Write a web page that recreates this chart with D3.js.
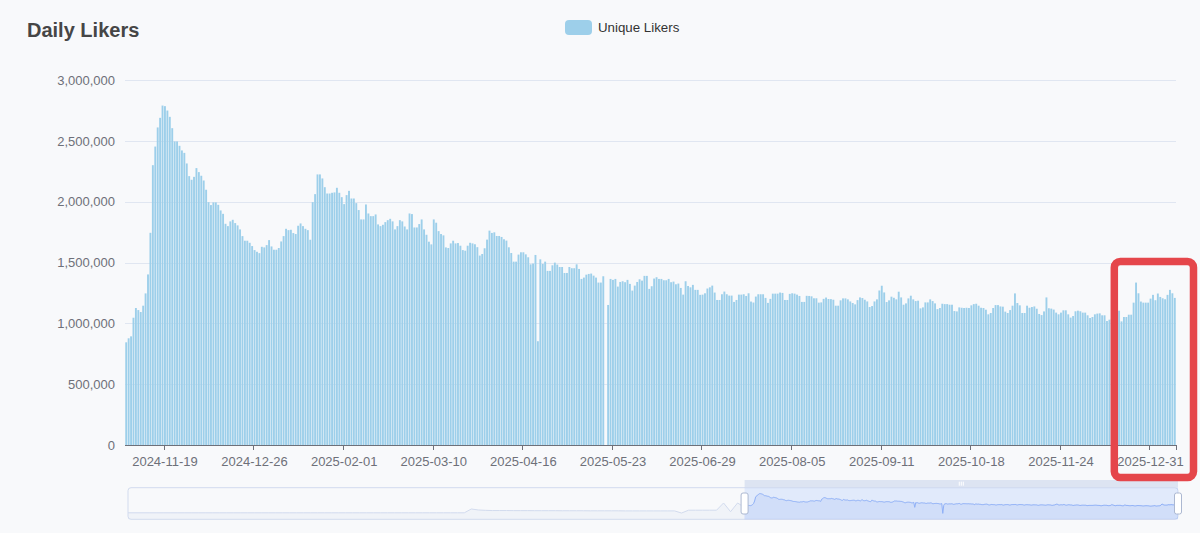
<!DOCTYPE html>
<html><head><meta charset="utf-8">
<script src="https://cdn.jsdelivr.net/npm/d3@7"></script>
<style>
html,body{margin:0;padding:0;background:#f8f9fb;}
svg{display:block;font-family:"Liberation Sans",Arial,Helvetica,sans-serif;}
</style>
</head><body>
<svg id="chart" width="1200" height="533"></svg>
<script>
const chartTitle = "Daily Likers";
const seriesName = "Unique Likers";
const firstDay = "2024-11-03";
const tickLabels = ["2024-11-19","2024-12-26","2025-02-01","2025-03-10","2025-04-16","2025-05-23","2025-06-29","2025-08-05","2025-09-11","2025-10-18","2025-11-24","2025-12-31"];
const yTicks = [0, 500000, 1000000, 1500000, 2000000, 2500000, 3000000];
const highlightFrom = "2025-12-15";

// daily unique likers, one value per day from firstDay
const uniqueLikers = [
844000, 877000, 893000, 1046000, 1126000, 1109000, 1093000, 1145000, 1246000, 1402000,
1744000, 2300000, 2453000, 2610000, 2689000, 2790000, 2785000, 2749000, 2697000, 2604000,
2495000, 2495000, 2459000, 2421000, 2401000, 2314000, 2210000, 2180000, 2204000, 2276000,
2243000, 2213000, 2174000, 2098000, 1996000, 1972000, 1994000, 1994000, 1974000, 1928000,
1900000, 1818000, 1799000, 1838000, 1851000, 1824000, 1805000, 1772000, 1717000, 1679000,
1679000, 1662000, 1635000, 1602000, 1588000, 1577000, 1629000, 1624000, 1643000, 1684000,
1632000, 1605000, 1605000, 1619000, 1673000, 1717000, 1777000, 1766000, 1769000, 1742000,
1734000, 1802000, 1821000, 1799000, 1777000, 1766000, 1687000, 1996000, 2062000, 2224000,
2224000, 2191000, 2119000, 2067000, 2067000, 2073000, 2076000, 2114000, 2073000, 2037000,
1980000, 2054000, 2089000, 2026000, 2026000, 1988000, 1931000, 1854000, 1854000, 1977000,
1903000, 1881000, 1881000, 1895000, 1813000, 1799000, 1810000, 1832000, 1848000, 1859000,
1838000, 1772000, 1799000, 1848000, 1838000, 1796000, 1772000, 1903000, 1898000, 1788000,
1788000, 1816000, 1854000, 1772000, 1728000, 1671000, 1649000, 1854000, 1827000, 1758000,
1734000, 1723000, 1624000, 1619000, 1657000, 1679000, 1657000, 1660000, 1638000, 1602000,
1597000, 1638000, 1662000, 1657000, 1650000, 1626000, 1557000, 1570000, 1617000, 1688000,
1762000, 1743000, 1748000, 1718000, 1718000, 1710000, 1691000, 1680000, 1625000, 1578000,
1507000, 1507000, 1565000, 1584000, 1584000, 1567000, 1543000, 1485000, 1491000, 1562000,
853000, 1526000, 1488000, 1507000, 1431000, 1431000, 1477000, 1499000, 1483000, 1463000,
1463000, 1414000, 1414000, 1463000, 1453000, 1453000, 1485000, 1447000, 1365000, 1376000,
1400000, 1406000, 1409000, 1392000, 1376000, 1335000, 1335000, 1387000, 0, 1151000,
1365000, 1357000, 1365000, 1302000, 1340000, 1346000, 1338000, 1357000, 1324000, 1269000,
1310000, 1340000, 1362000, 1351000, 1390000, 1390000, 1283000, 1305000, 1368000, 1379000,
1365000, 1365000, 1354000, 1354000, 1365000, 1338000, 1343000, 1321000, 1327000, 1291000,
1236000, 1346000, 1307000, 1296000, 1316000, 1275000, 1275000, 1234000, 1236000, 1247000,
1286000, 1296000, 1310000, 1253000, 1192000, 1192000, 1239000, 1261000, 1239000, 1228000,
1228000, 1176000, 1192000, 1236000, 1236000, 1239000, 1225000, 1247000, 1179000, 1171000,
1220000, 1239000, 1239000, 1239000, 1209000, 1168000, 1201000, 1244000, 1244000, 1244000,
1253000, 1250000, 1192000, 1192000, 1242000, 1247000, 1244000, 1236000, 1225000, 1176000,
1176000, 1226000, 1225000, 1222000, 1206000, 1206000, 1170000, 1172000, 1201000, 1212000,
1200000, 1199000, 1194000, 1145000, 1145000, 1189000, 1205000, 1205000, 1197000, 1180000,
1167000, 1156000, 1191000, 1213000, 1208000, 1194000, 1180000, 1134000, 1142000, 1180000,
1197000, 1270000, 1309000, 1254000, 1175000, 1189000, 1219000, 1210000, 1197000, 1260000,
1213000, 1153000, 1164000, 1205000, 1227000, 1197000, 1183000, 1186000, 1123000, 1131000,
1172000, 1172000, 1197000, 1183000, 1164000, 1117000, 1126000, 1161000, 1158000, 1158000,
1153000, 1153000, 1101000, 1098000, 1131000, 1128000, 1126000, 1128000, 1126000, 1148000,
1158000, 1161000, 1145000, 1128000, 1126000, 1112000, 1074000, 1085000, 1126000, 1150000,
1150000, 1139000, 1137000, 1096000, 1085000, 1109000, 1145000, 1246000, 1167000, 1148000,
1085000, 1085000, 1145000, 1128000, 1134000, 1139000, 1120000, 1077000, 1068000, 1098000,
1213000, 1124000, 1121000, 1113000, 1088000, 1074000, 1088000, 1107000, 1107000, 1074000,
1047000, 1060000, 1099000, 1104000, 1099000, 1088000, 1088000, 1066000, 1044000, 1052000,
1074000, 1080000, 1082000, 1066000, 1066000, 1019000, 1030000, 1038000, 1060000, 1070000,
1104000, 1016000, 1052000, 1052000, 1071000, 1071000, 1170000, 1335000, 1247000, 1179000,
1170000, 1170000, 1170000, 1203000, 1234000, 1190000, 1245000, 1217000, 1206000, 1198000,
1234000, 1275000, 1247000, 1209000
];

// history before the zoomed window, one reading per week (data-zoom preview only)
const earlierWeeklyLikers = [
80000, 80000, 80000, 80000, 80000, 80000, 80000, 80000, 80000, 80000,
80000, 80000, 80000, 80000, 80000, 80000, 80000, 80000, 80000, 80000,
80000, 80000, 80000, 80000, 80000, 80000, 80000, 80000, 80000, 80000,
80000, 80000, 80000, 80000, 80000, 80000, 80000, 80000, 80000, 80000,
80000, 80000, 80000, 80000, 80000, 80000, 80000, 80000, 80000, 620000,
480000, 430000, 400000, 400000, 400000, 390000, 390000, 390000, 380000, 380000,
380000, 380000, 370000, 370000, 370000, 370000, 360000, 360000, 360000, 360000,
360000, 350000, 350000, 350000, 350000, 350000, 350000, 350000, 350000, 50000,
450000, 450000, 450000, 450000, 450000, 1470000, 240000, 1470000
];

const W = 1200, H = 533;
const svg = d3.select("#chart");
svg.append("rect").attr("width", W).attr("height", H).attr("fill", "#f8f9fb");

const parse = d3.utcParse("%Y-%m-%d");
const fmt = d3.utcFormat("%Y-%m-%d");
const start = parse(firstDay);
const categories = uniqueLikers.map((_, i) => fmt(d3.utcDay.offset(start, i)));
const data = categories.map((c, i) => ({ date: c, value: uniqueLikers[i] }));

const plot = { left: 125, right: 1176, top: 80, bottom: 445 };
const x = d3.scaleBand().domain(categories).range([plot.left, plot.right]).paddingInner(0.22).paddingOuter(0.11);
const step = x.step();
const y = d3.scaleLinear().domain([0, 3000000]).range([plot.bottom, plot.top]);

// title
svg.append("text").attr("x", 27).attr("y", 37).attr("font-size", 20).attr("font-weight", "bold")
  .attr("fill", "#464646").text(chartTitle);

// legend
const lg = svg.append("g");
lg.append("rect").attr("x", 565).attr("y", 20).attr("width", 27).attr("height", 15).attr("rx", 4)
  .attr("fill", "#9dcfea");
lg.append("text").attr("x", 598).attr("y", 32).attr("font-size", 13.3).attr("fill", "#333").text(seriesName);

// grid
svg.append("g").selectAll("line").data(yTicks.filter(d => d > 0)).join("line")
  .attr("x1", plot.left).attr("x2", plot.right)
  .attr("y1", d => Math.round(y(d)) + 0.5).attr("y2", d => Math.round(y(d)) + 0.5)
  .attr("stroke", "#e0e6f1").attr("stroke-width", 1);

// y labels
const yAxis = d3.axisLeft(y).tickValues(yTicks).tickFormat(d3.format(",")).tickSize(0).tickPadding(10);
const yg = svg.append("g").attr("transform", `translate(${plot.left},0)`).call(yAxis);
yg.select(".domain").remove();
yg.selectAll("text").attr("font-size", 13).attr("fill", "#6e7079").attr("font-family", "Liberation Sans, Arial, sans-serif");

// bars
svg.append("g").selectAll("rect").data(data.filter(d => d.value > 0)).join("rect")
  .attr("x", d => x(d.date))
  .attr("y", d => y(d.value))
  .attr("width", x.bandwidth())
  .attr("height", d => y(0) - y(d.value))
  .attr("fill", "#9dcfea");

// x axis
const bandStart = d => plot.left + categories.indexOf(d) * step;
svg.append("line").attr("x1", plot.left).attr("x2", plot.right)
  .attr("y1", y(0) + 0.5).attr("y2", y(0) + 0.5).attr("stroke", "#6e7079");
const tickPos = tickLabels.map(bandStart).concat([plot.right]);
svg.append("g").selectAll("line").data(tickPos).join("line")
  .attr("x1", d => Math.round(d) + 0.5).attr("x2", d => Math.round(d) + 0.5)
  .attr("y1", y(0)).attr("y2", y(0) + 5).attr("stroke", "#6e7079");
svg.append("g").selectAll("text").data(tickLabels).join("text")
  .attr("x", d => bandStart(d) + step / 2).attr("y", 466)
  .attr("text-anchor", "middle").attr("font-size", 13).attr("fill", "#6e7079").text(d => d);

// data zoom slider
const slider = { left: 128, right: 1178, top: 487.7, bottom: 519.3 };
const earlyDays = earlierWeeklyLikers.length * 7;
const totalDays = earlyDays + uniqueLikers.length;
const sx = d3.scaleLinear().domain([0, totalDays - 1]).range([slider.left, slider.right]);
const allVals = earlierWeeklyLikers.concat(uniqueLikers);
const vmax = d3.max(allVals), vmin = d3.min(allVals);
const off = (vmax - vmin) * 0.3;
const sy = d3.scaleLinear().domain([vmin - off, vmax + off]).range([slider.bottom, slider.top]);
const earlyPts = earlierWeeklyLikers.map((v, k) => [k * 7, v]);
const windowPts = uniqueLikers.map((v, i) => [earlyDays + i, v]);
const prePts = earlyPts.concat([windowPts[0]]);
const line = d3.line().x(d => sx(d[0])).y(d => sy(d[1]));
const area = d3.area().x(d => sx(d[0])).y0(slider.bottom).y1(d => sy(d[1]));

const sg = svg.append("g");
sg.append("rect").attr("x", slider.left).attr("y", slider.top)
  .attr("width", slider.right - slider.left).attr("height", slider.bottom - slider.top)
  .attr("rx", 3).attr("fill", "none").attr("stroke", "#d2dbee");
sg.append("path").datum(prePts).attr("d", area).attr("fill", "#d2dbee").attr("opacity", 0.2);
sg.append("path").datum(prePts).attr("d", line).attr("fill", "none").attr("stroke", "#d2dbee").attr("stroke-width", 1);
const selX0 = sx(earlyDays), selX1 = sx(totalDays - 1);
sg.append("rect").attr("x", selX0).attr("y", slider.top).attr("width", selX1 - selX0)
  .attr("height", slider.bottom - slider.top).attr("fill", "rgb(135,175,255)").attr("opacity", 0.2);
sg.append("path").datum(windowPts).attr("d", area).attr("fill", "#8fb0f7").attr("opacity", 0.2);
sg.append("path").datum(windowPts).attr("d", line).attr("fill", "none").attr("stroke", "#8fb0f7").attr("stroke-width", 1);
// move handle
sg.append("rect").attr("x", selX0).attr("y", slider.top - 7.7).attr("width", selX1 - selX0).attr("height", 7.7)
  .attr("fill", "#d2dbee").attr("opacity", 0.7);
const mid = (selX0 + selX1) / 2;
[-2, 0, 2].forEach(o => sg.append("line").attr("x1", mid + o).attr("x2", mid + o)
  .attr("y1", slider.top - 6).attr("y2", slider.top - 2).attr("stroke", "#fff").attr("stroke-width", 1));
// handles
[selX0, selX1].forEach(hx => sg.append("rect").attr("x", hx - 3.5).attr("y", 493).attr("width", 7).attr("height", 21)
  .attr("rx", 2).attr("fill", "#fff").attr("stroke", "#acb8d1").attr("stroke-width", 1));

// highlight annotation around the latest days
const hlLeft = bandStart(highlightFrom);
svg.append("rect").attr("x", hlLeft + 3.7).attr("y", 261.5)
  .attr("width", plot.right + 17.5 - (hlLeft + 3.7)).attr("height", 216)
  .attr("rx", 6).attr("fill", "none").attr("stroke", "#e5464b").attr("stroke-width", 7.5);
</script>
</body></html>
